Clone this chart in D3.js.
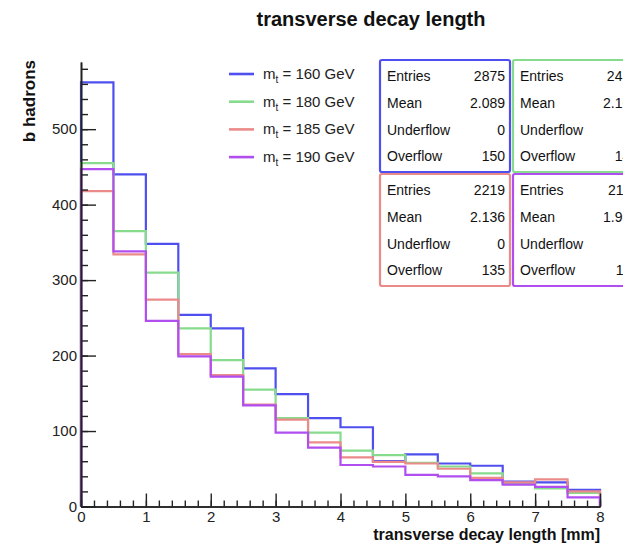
<!DOCTYPE html>
<html>
<head>
<meta charset="utf-8">
<script src="https://cdn.jsdelivr.net/npm/d3@7"></script>
<style>
  html, body { margin: 0; padding: 0; background: #fff; }
  svg { display: block; font-family: "Liberation Sans", Arial, Helvetica, sans-serif; }
</style>
</head>
<body>
<svg id="chart" width="623" height="546"></svg>
<script>
// Bin edges of the transverse decay length histograms [mm]
const binEdges = [0, 0.5, 1, 1.5, 2, 2.5, 3, 3.5, 4, 4.5, 5, 5.5, 6, 6.5, 7, 7.5, 8];

// b hadron counts per bin, one series per top mass hypothesis
const counts160 = [562, 440, 348, 254, 236, 183, 149, 117, 105, 60, 69, 57, 54, 33, 32, 22];
const counts180 = [455, 365, 310, 236, 194, 155, 117, 98, 74, 68, 58, 53, 44, 30, 24, 18];
const counts185 = [418, 334, 274, 202, 174, 135, 115, 85, 65, 59, 57, 50, 38, 32, 36, 20];
const counts190 = [447, 338, 246, 199, 172, 134, 98, 78, 55, 53, 42, 40, 35, 29, 26, 12];

const massLabels = ["160", "180", "185", "190"];
const seriesColors = ["#4f4ff0", "#86dc8c", "#ec8a8a", "#b04ef0"];

// Statistics boxes: [entries, mean, underflow, overflow]
const statNames = ["Entries", "Mean", "Underflow", "Overflow"];
const stats160 = ["2875", "2.089", "0", "150"];
const stats180 = ["2452", "2.163", "0", "148"];
const stats185 = ["2219", "2.136", "0", "135"];
const stats190 = ["2117", "1.958", "0", "113"];

// Axis ticks
const yMajorTicks = [0, 100, 200, 300, 400, 500];
const yMinorTicks = d3.range(0, 581, 20);
const xMajorTicks = [0, 1, 2, 3, 4, 5, 6, 7, 8];
const xMinorTicks = d3.range(0, 8.001, 0.2);

const chartTitle = "transverse decay length";
const xTitle = "transverse decay length [mm]";
const yTitle = "b hadrons";

const svg = d3.select("#chart");

const x = d3.scaleLinear().domain([0, 8]).range([81, 600]);
const y = d3.scaleLinear().domain([0, 589]).range([506.5, 62]);

// Title
svg.append("text")
  .attr("x", 371).attr("y", 26)
  .attr("text-anchor", "middle")
  .attr("font-size", 20).attr("font-weight", "bold")
  .attr("fill", "#111")
  .text(chartTitle);

// Histograms as step outlines
const seriesList = [counts160, counts180, counts185, counts190];
seriesList.forEach((vals, i) => {
  let d = `M${x(binEdges[0])},${y(0)}`;
  vals.forEach((v, b) => {
    d += `L${x(binEdges[b])},${y(v)}L${x(binEdges[b + 1])},${y(v)}`;
  });
  d += `L${x(binEdges[binEdges.length - 1])},${y(0)}`;
  svg.append("path")
    .attr("d", d)
    .attr("fill", "none")
    .attr("stroke", seriesColors[i])
    .attr("stroke-width", 2.2);
});

// Axes
const axisColor = "#222";
const yMinor = svg.append("g").attr("transform", `translate(${x(0)},0)`)
  .call(d3.axisLeft(y).tickValues(yMinorTicks).tickSize(-7).tickSizeOuter(0).tickFormat(""));
const yMajor = svg.append("g").attr("transform", `translate(${x(0)},0)`)
  .call(d3.axisLeft(y).tickValues(yMajorTicks).tickSize(-15).tickSizeOuter(0).tickPadding(4).tickFormat(d3.format("d")));
const xMinor = svg.append("g").attr("transform", `translate(0,${y(0)})`)
  .call(d3.axisBottom(x).tickValues(xMinorTicks).tickSize(-6).tickSizeOuter(0).tickFormat(""));
const xMajor = svg.append("g").attr("transform", `translate(0,${y(0)})`)
  .call(d3.axisBottom(x).tickValues(xMajorTicks).tickSize(-13).tickSizeOuter(0).tickPadding(5).tickFormat(d3.format("d")));

[yMinor, yMajor, xMinor, xMajor].forEach(g => {
  g.selectAll("path.domain").attr("stroke", axisColor).attr("stroke-width", 1.6);
  g.selectAll(".tick line").attr("stroke", axisColor).attr("stroke-width", 1.4);
  g.selectAll(".tick text").attr("fill", "#222").attr("font-size", 15)
    .attr("font-family", "'Liberation Sans', Arial, sans-serif");
});

// Axis titles
svg.append("text")
  .attr("x", 600).attr("y", 540)
  .attr("text-anchor", "end")
  .attr("font-size", 16).attr("font-weight", "bold")
  .attr("fill", "#111")
  .text(xTitle);

svg.append("text")
  .attr("transform", "translate(35,60) rotate(-90)")
  .attr("text-anchor", "end")
  .attr("font-size", 17).attr("font-weight", "bold")
  .attr("fill", "#111")
  .text(yTitle);

// Legend
const legend = svg.append("g");
massLabels.forEach((m, i) => {
  const ly = 74 + i * 27.7;
  legend.append("line")
    .attr("x1", 229).attr("x2", 254).attr("y1", ly).attr("y2", ly)
    .attr("stroke", seriesColors[i]).attr("stroke-width", 2.6);
  const t = legend.append("text")
    .attr("x", 263).attr("y", ly + 5)
    .attr("font-size", 15).attr("fill", "#222");
  t.append("tspan").text("m");
  t.append("tspan").attr("font-size", 10).attr("dy", 4).text("t");
  t.append("tspan").attr("dy", -4).text(` = ${m} GeV`);
});

// Statistics boxes
const statSets = [stats160, stats180, stats185, stats190];
const boxPos = [[380, 60], [513, 60], [380, 174], [513, 174]];
const boxW = 130, boxH = 112;
statSets.forEach((vals, i) => {
  const [bx, by] = boxPos[i];
  const g = svg.append("g");
  g.append("rect")
    .attr("x", bx).attr("y", by).attr("width", boxW).attr("height", boxH)
    .attr("rx", 2)
    .attr("fill", "#fff")
    .attr("stroke", seriesColors[i]).attr("stroke-width", 2.2);
  statNames.forEach((name, r) => {
    const ty = by + 21 + r * 26.8;
    g.append("text")
      .attr("x", bx + 7).attr("y", ty)
      .attr("font-size", 14).attr("fill", "#111")
      .text(name);
    g.append("text")
      .attr("x", bx + boxW - 5).attr("y", ty)
      .attr("text-anchor", "end")
      .attr("font-size", 14).attr("fill", "#111")
      .text(vals[r]);
  });
});
</script>
</body>
</html>
